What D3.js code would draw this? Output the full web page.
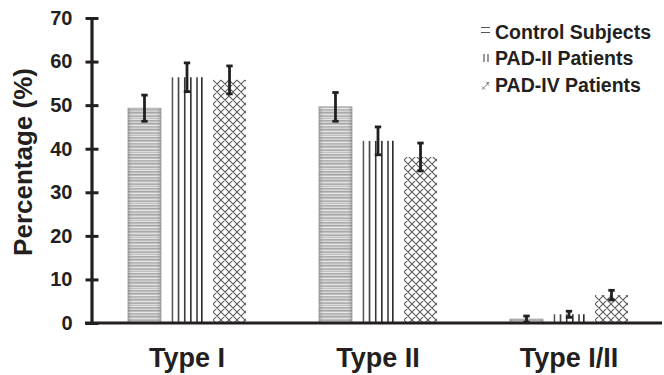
<!DOCTYPE html>
<html lang="en">

<head>
    <meta charset="UTF-8">
    <title>Fiber types</title>
    <style>
        body { margin: 0; background: #fff; }
        svg { display: block; font-family: "Liberation Sans", Arial, sans-serif; font-weight: bold; }
    </style>
    <script src="https://d3js.org/d3.v7.min.js"></script>
</head>

<body>
    <div id="chart"></div>

    <script>
        const CATEGORIES = ["Type I", "Type II", "Type I/II"];
        const SERIES = ["Control Subjects", "PAD-II Patients", "PAD-IV Patients"];
        const CONTROL = [49.3, 49.6, 0.9];
        const CONTROL_ERR = [3.0, 3.3, 0.7];
        const PAD2 = [56.4, 41.8, 2.0];
        const PAD2_ERR = [3.3, 3.2, 0.7];
        const PAD4 = [55.8, 38.1, 6.4];
        const PAD4_ERR = [3.2, 3.2, 1.1];
        const Y_TICKS = [0, 10, 20, 30, 40, 50, 60, 70];

        const width = 664, height = 375;
        const ink = "#231f20";

        const svg = d3.select("#chart").append("svg")
            .attr("width", width)
            .attr("height", height);

        // patterns
        const defs = svg.append("defs");

        // control: horizontal gray streaks
        const pc = defs.append("pattern")
            .attr("id", "pat-control")
            .attr("patternUnits", "userSpaceOnUse")
            .attr("width", 8).attr("height", 17);
        pc.append("rect").attr("width", 8).attr("height", 17).attr("fill", "#bcbcbc");
        [[0, "#e3e3e3"], [1, "#a6a6a6"], [3, "#d4d4d4"], [4, "#9f9f9f"], [6, "#e8e8e8"],
         [7, "#b0b0b0"], [9, "#cfcfcf"], [10, "#a3a3a3"], [12, "#dedede"], [14, "#aaaaaa"],
         [15, "#d9d9d9"]].forEach(([y, c]) => {
            pc.append("rect").attr("y", y).attr("width", 8).attr("height", 1).attr("fill", c);
        });

        const shade = defs.append("linearGradient").attr("id", "grad-edge");
        shade.append("stop").attr("offset", "0").attr("stop-color", "#666").attr("stop-opacity", 0.4);
        shade.append("stop").attr("offset", "0.2").attr("stop-color", "#fff").attr("stop-opacity", 0.05);
        shade.append("stop").attr("offset", "0.8").attr("stop-color", "#fff").attr("stop-opacity", 0.05);
        shade.append("stop").attr("offset", "1").attr("stop-color", "#666").attr("stop-opacity", 0.4);

        // PAD-II: vertical lines
        const p2 = defs.append("pattern")
            .attr("id", "pat-pad2")
            .attr("patternUnits", "objectBoundingBox")
            .attr("width", 0.2).attr("height", 1);
        p2.append("rect").attr("x", 0).attr("y", 0).attr("width", 1.5).attr("height", 400).attr("fill", "#2b2b2b");

        // PAD-IV: crosshatch
        const p4 = defs.append("pattern")
            .attr("id", "pat-pad4")
            .attr("patternUnits", "userSpaceOnUse")
            .attr("width", 8).attr("height", 8);
        p4.append("path")
            .attr("d", "M0,0L8,8M8,0L0,8M-1,7L1,9M7,-1L9,1M-1,1L1,-1M7,9L9,7")
            .attr("stroke", "#5a5a5a").attr("stroke-width", 1.1).attr("fill", "none");

        const FILLS = ["url(#pat-control)", "url(#pat-pad2)", "url(#pat-pad4)"];

        // scales
        const y = d3.scaleLinear().domain([0, 70]).range([323, 18]);

        const x0 = d3.scaleBand()
            .domain(CATEGORIES)
            .range([91.5, 664.5])
            .paddingInner(0.382)
            .paddingOuter(0.191);

        const x1 = d3.scaleBand()
            .domain(SERIES)
            .range([0, x0.bandwidth()])
            .paddingInner(0.2235);

        const table = [];
        const vals = [CONTROL, PAD2, PAD4], errs = [CONTROL_ERR, PAD2_ERR, PAD4_ERR];
        CATEGORIES.forEach((c, i) => {
            SERIES.forEach((s, j) => {
                table.push({ cat: c, series: s, k: j, v: vals[j][i], e: errs[j][i] });
            });
        });

        // bars
        const bars = svg.append("g").selectAll("g")
            .data(table)
            .join("g")
            .attr("transform", d => "translate(" + (x0(d.cat) + x1(d.series)) + ",0)");

        bars.append("rect")
            .attr("x", d => d.k === 1 ? 1 : 0)
            .attr("width", d => d.k === 1 ? x1.bandwidth() - 2 : x1.bandwidth())
            .attr("y", d => y(d.v))
            .attr("height", d => y(0) - y(d.v))
            .attr("fill", d => FILLS[d.k]);

        // control shading and border
        bars.filter(d => d.k === 0).append("rect")
            .attr("width", x1.bandwidth())
            .attr("y", d => y(d.v))
            .attr("height", d => y(0) - y(d.v))
            .attr("fill", "url(#grad-edge)")
            .attr("stroke", "#9a9a9a")
            .attr("stroke-width", 0.8);

        // PAD-II right edge line
        bars.filter(d => d.k === 1).append("line")
            .attr("x1", x1.bandwidth() - 1.75).attr("x2", x1.bandwidth() - 1.75)
            .attr("y1", d => y(d.v)).attr("y2", y(0))
            .attr("stroke", "#2b2b2b").attr("stroke-width", 1.5);

        // error bars
        const eb = bars.append("g")
            .attr("stroke", ink)
            .attr("stroke-width", 2.8)
            .attr("transform", "translate(" + x1.bandwidth() / 2 + ",0)");
        eb.append("line")
            .attr("y1", d => y(d.v + d.e)).attr("y2", d => y(Math.max(0, d.v - d.e)));
        eb.append("line")
            .attr("x1", -3.2).attr("x2", 3.2)
            .attr("y1", d => y(d.v + d.e)).attr("y2", d => y(d.v + d.e));
        eb.append("line")
            .attr("x1", -3.2).attr("x2", 3.2)
            .attr("y1", d => y(Math.max(0, d.v - d.e))).attr("y2", d => y(Math.max(0, d.v - d.e)));

        // y axis
        const yAxis = svg.append("g")
            .attr("transform", "translate(91.5,0)")
            .call(d3.axisLeft(y).tickValues(Y_TICKS).tickSize(6).tickSizeOuter(0).tickPadding(13));
        yAxis.select(".domain").attr("stroke", ink).attr("stroke-width", 3.2);
        yAxis.selectAll(".tick line").attr("x1", -6).attr("x2", 7).attr("stroke", ink).attr("stroke-width", 3);
        yAxis.selectAll(".tick text")
            .attr("fill", ink)
            .style("font-size", "20px")
            .style("font-family", "'Liberation Sans', Arial, sans-serif")
            .style("font-weight", "bold");

        // x axis
        const xAxis = svg.append("g")
            .attr("transform", "translate(0,323)")
            .call(d3.axisBottom(x0).tickSize(0).tickPadding(25));
        xAxis.select(".domain").attr("d", "M85,0H662").attr("stroke", ink).attr("stroke-width", 3.2);
        xAxis.selectAll(".tick text")
            .attr("fill", ink)
            .style("font-size", "27px")
            .style("font-family", "'Liberation Sans', Arial, sans-serif")
            .style("font-weight", "bold");

        // y title
        svg.append("text")
            .attr("transform", "translate(32,162) rotate(-90)")
            .attr("text-anchor", "middle")
            .attr("fill", ink)
            .style("font-size", "26px")
            .text("Percentage (%)");

        // legend
        const legend = svg.append("g")
            .selectAll("g")
            .data(SERIES)
            .join("g")
            .attr("transform", (d, i) => "translate(480," + (38.5 + i * 26.5) + ")");

        legend.append("text")
            .attr("x", 15)
            .attr("fill", ink)
            .style("font-size", "19.5px")
            .text(d => d);

        legend.filter((d, i) => i === 0).append("path")
            .attr("d", "M1,-11H10M1,-6H10").attr("stroke", "#555").attr("stroke-width", 1.2);
        legend.filter((d, i) => i === 1).append("path")
            .attr("d", "M4,-11V-3M8,-11V-3").attr("stroke", "#555").attr("stroke-width", 1.2);
        legend.filter((d, i) => i === 2).append("path")
            .attr("d", "M2,-2L9,-9M6,-9L9,-6M2,-5L5,-2M7,-9L9,-9")
            .attr("stroke", "#777").attr("stroke-width", 1);
    </script>
</body>

</html>
